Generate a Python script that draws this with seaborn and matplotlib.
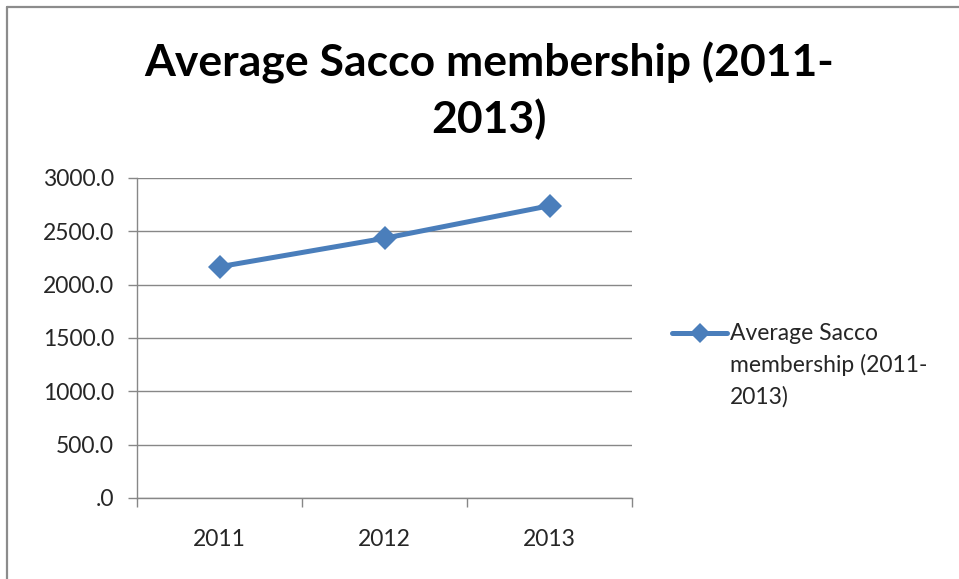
import matplotlib
matplotlib.use("Agg")
import matplotlib.pyplot as plt
from matplotlib.lines import Line2D
from matplotlib.ticker import FixedLocator, FuncFormatter
import seaborn as sns
import pandas as pd

# Average Sacco membership per year
years = ["2011", "2012", "2013"]
membership = [2168, 2435, 2740]
y_ticks = [0, 500, 1000, 1500, 2000, 2500, 3000]
series_name = "Average Sacco membership (2011-2013)"
title_text = "Average Sacco membership (2011-\n2013)"
legend_text = "Average Sacco\nmembership (2011-\n2013)"

df = pd.DataFrame({"year": years, "members": membership})
df["pos"] = range(len(df))

sns.set_theme(style="white")
plt.rcParams["font.family"] = ["Lato", "DejaVu Sans"]

line_color = "#4A7EBB"
grid_color = "#878787"
text_color = "#262626"
label_size = 16.5

fig = plt.figure(figsize=(9.59, 5.79), dpi=100)
fig.patch.set_facecolor("white")
ax = fig.add_axes([137 / 959, 1 - 498 / 579, (632 - 137) / 959, (498 - 178) / 579])

sns.lineplot(data=df, x="pos", y="members", ax=ax, color=line_color,
             linewidth=3.6, marker="D", markersize=12.5, markeredgewidth=0,
             label=series_name, legend=False)

ax.set_xlim(-0.5, len(years) - 0.5)
ax.set_ylim(0, 3000)
ax.set_xlabel("")
ax.set_ylabel("")

# category labels in the middle, tick marks on the boundaries
ax.xaxis.set_major_locator(FixedLocator(list(df["pos"])))
ax.set_xticklabels(years)
ax.xaxis.set_minor_locator(FixedLocator([i - 0.5 for i in range(len(years) + 1)]))
ax.tick_params(axis="x", which="major", length=0, pad=22, labelsize=label_size, labelcolor=text_color)
ax.tick_params(axis="x", which="minor", bottom=True, length=6.5, width=1, color=grid_color, direction="out")

ax.yaxis.set_major_locator(FixedLocator(y_ticks))
ax.yaxis.set_major_formatter(FuncFormatter(lambda v, _: ".0" if v == 0 else f"{v:.1f}"))
ax.tick_params(axis="y", which="major", left=True, length=6.5, width=1, color=grid_color,
               direction="out", pad=10, labelsize=label_size, labelcolor=text_color)

ax.grid(axis="y", color=grid_color, linewidth=1)
ax.set_axisbelow(True)
for side in ["top", "right"]:
    ax.spines[side].set_visible(False)
for side in ["left", "bottom"]:
    ax.spines[side].set_color(grid_color)
    ax.spines[side].set_linewidth(1)

# chart title, centred across the chart area
fig.text(0.51, 1 - 91 / 579, title_text, ha="center", va="center", fontsize=32,
         fontweight="bold", color="black", linespacing=1.4)

# legend key and wrapped label on the right
key_y = 1 - 333 / 579
fig.add_artist(Line2D([672 / 959, 727 / 959], [key_y, key_y], transform=fig.transFigure,
                      color=line_color, linewidth=3.6))
fig.add_artist(Line2D([700 / 959], [key_y], transform=fig.transFigure, color=line_color,
                      marker="D", markersize=10, markeredgewidth=0, linestyle="none"))
fig.text(730 / 959, 1 - 323 / 579, legend_text, ha="left", va="top", fontsize=label_size,
         color=text_color, linespacing=1.55)

# chart frame: left and top edges
fig.add_artist(Line2D([6.5 / 959, 6.5 / 959], [0, 1 - 6.5 / 579], transform=fig.transFigure,
                      color="#8C8C8C", linewidth=1.6))
fig.add_artist(Line2D([6.5 / 959, 1], [1 - 6.5 / 579, 1 - 6.5 / 579], transform=fig.transFigure,
                      color="#8C8C8C", linewidth=1.6))

fig.savefig("out.png", dpi=100, facecolor="white")
